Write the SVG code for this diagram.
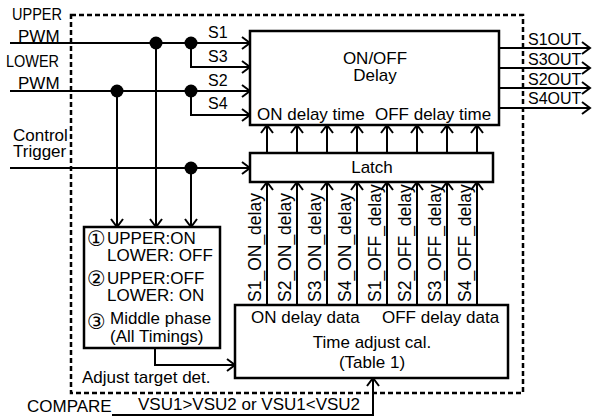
<svg xmlns="http://www.w3.org/2000/svg" width="592" height="417" viewBox="0 0 592 417">
<defs>
<style>
text{font-family:"Liberation Sans","DejaVu Sans",Arial,sans-serif;font-size:17px;fill:#000}
.s{font-size:16px}
.v{font-size:17.5px}
.c{font-family:"DejaVu Sans","Liberation Sans",sans-serif;font-size:21px}
.m{text-anchor:middle}
.box{fill:#fff;stroke:#000;stroke-width:2.5}
.ln{fill:none;stroke:#000;stroke-width:2}
.ar{marker-end:url(#arr)}
.dash{fill:none;stroke:#000;stroke-width:2.5;stroke-dasharray:5 3}
</style>
<marker id="arr" markerWidth="11" markerHeight="14" refX="9.5" refY="7" orient="auto" markerUnits="userSpaceOnUse">
<path d="M1.5,1 L9.5,7 L1.5,13" fill="none" stroke="#000" stroke-width="2"/>
</marker>
</defs>
<rect width="592" height="417" fill="#fff"/>

<rect id="frame" class="dash" x="71" y="15" width="452" height="378"/>

<g id="connectors">
<path class="ln ar" d="M10,43 H250"/>
<path class="ln ar" d="M191,43 V67 H250"/>
<path class="ln ar" d="M10,91 H250"/>
<path class="ln ar" d="M191,91 V115 H250"/>
<path class="ln ar" d="M156,43 V227"/>
<path class="ln ar" d="M117,91 V227"/>
<path class="ln ar" d="M191,168 V227"/>
<path class="ln ar" d="M10,168 H250"/>
<path class="ln ar" d="M499,48 H590"/>
<path class="ln ar" d="M499,68 H590"/>
<path class="ln ar" d="M499,88 H590"/>
<path class="ln ar" d="M499,108 H590"/>
<path class="ln ar" d="M267,153 V125"/>
<path class="ln ar" d="M297,153 V125"/>
<path class="ln ar" d="M327,153 V125"/>
<path class="ln ar" d="M357,153 V125"/>
<path class="ln ar" d="M387,153 V125"/>
<path class="ln ar" d="M417,153 V125"/>
<path class="ln ar" d="M447,153 V125"/>
<path class="ln ar" d="M477,153 V125"/>
<path class="ln ar" d="M267,305 V182"/>
<path class="ln ar" d="M297,305 V182"/>
<path class="ln ar" d="M327,305 V182"/>
<path class="ln ar" d="M357,305 V182"/>
<path class="ln ar" d="M387,305 V182"/>
<path class="ln ar" d="M417,305 V182"/>
<path class="ln ar" d="M447,305 V182"/>
<path class="ln ar" d="M477,305 V182"/>
<path class="ln ar" d="M155,348 V365 H235"/>
<path class="ln ar" d="M112,415 H373 V378"/>
<circle cx="156" cy="43" r="6.5"/>
<circle cx="191" cy="43" r="6.5"/>
<circle cx="117" cy="91" r="6.5"/>
<circle cx="191" cy="91" r="6.5"/>
<circle cx="191" cy="168" r="6.5"/>
</g>

<g id="inputs">
<text x="12" y="20" textLength="50" lengthAdjust="spacingAndGlyphs">UPPER</text>
<text x="18" y="42">PWM</text>
<text x="6" y="67" textLength="53" lengthAdjust="spacingAndGlyphs">LOWER</text>
<text x="18" y="89">PWM</text>
<text x="13" y="141">Control</text>
<text x="13" y="157">Trigger</text>
<text class="s" x="208" y="38">S1</text>
<text class="s" x="208" y="62">S3</text>
<text class="s" x="208" y="86">S2</text>
<text class="s" x="208" y="109">S4</text>
</g>

<g id="outputs">
<text class="s" x="528" y="45">S1OUT</text>
<text class="s" x="528" y="65">S3OUT</text>
<text class="s" x="528" y="85">S2OUT</text>
<text class="s" x="528" y="104">S4OUT</text>
</g>

<g id="delay">
<rect class="box" x="250" y="31" width="249" height="94"/>
<text class="m" x="375" y="64">ON/OFF</text>
<text class="m" x="375" y="81">Delay</text>
<text x="257" y="120">ON delay time</text>
<text x="375" y="120">OFF delay time</text>
</g>

<g id="latch">
<rect class="box" x="250" y="153" width="243" height="29"/>
<text class="m" x="372" y="173">Latch</text>
</g>

<g id="labels">
<text class="v" transform="translate(261,302) rotate(-90)">S1_ON_delay</text>
<text class="v" transform="translate(291,302) rotate(-90)">S2_ON_delay</text>
<text class="v" transform="translate(321,302) rotate(-90)">S3_ON_delay</text>
<text class="v" transform="translate(351,302) rotate(-90)">S4_ON_delay</text>
<text class="v" transform="translate(381,302) rotate(-90)">S1_OFF_delay</text>
<text class="v" transform="translate(411,302) rotate(-90)">S2_OFF_delay</text>
<text class="v" transform="translate(441,302) rotate(-90)">S3_OFF_delay</text>
<text class="v" transform="translate(471,302) rotate(-90)">S4_OFF_delay</text>
</g>

<g id="target">
<rect class="box" x="84" y="227" width="136" height="121"/>
<text class="c" x="87" y="246">①</text>
<text x="107" y="244">UPPER:ON</text>
<text x="107" y="261">LOWER: OFF</text>
<text class="c" x="87" y="286">②</text>
<text x="107" y="284">UPPER:OFF</text>
<text x="107" y="301">LOWER: ON</text>
<text class="c" x="87" y="329">③</text>
<text x="110" y="324">Middle phase</text>
<text x="110" y="342">(All Timings)</text>
<text x="82" y="383">Adjust target det.</text>
</g>

<g id="timeadjust">
<rect class="box" x="235" y="305" width="273" height="73"/>
<text x="251" y="323">ON delay data</text>
<text x="382" y="323">OFF delay data</text>
<text class="m" x="372" y="348">Time adjust cal.</text>
<text class="m" x="372" y="368">(Table 1)</text>
</g>

<g id="compare">
<text x="27" y="412">COMPARE</text>
<text x="138" y="410">VSU1&gt;VSU2 or VSU1&lt;VSU2</text>
</g>
</svg>
